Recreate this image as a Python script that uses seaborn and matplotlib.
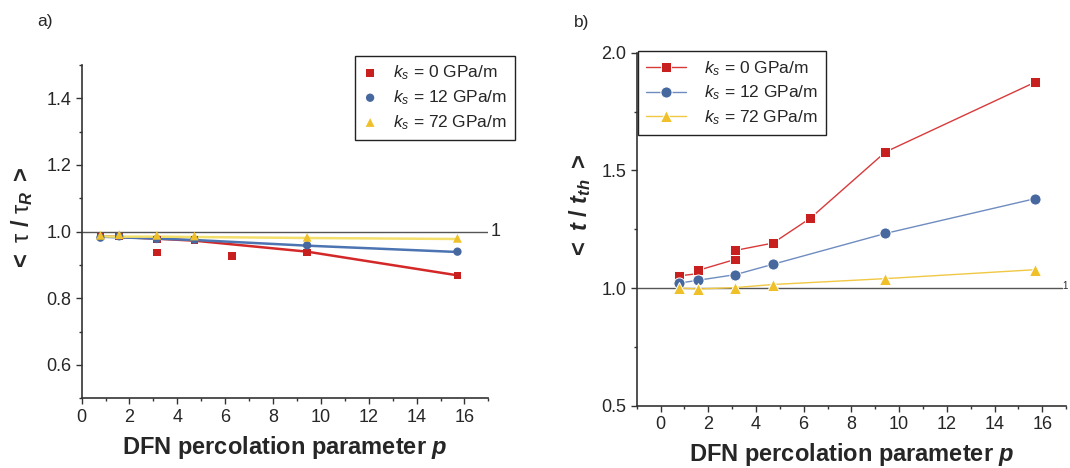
import matplotlib
matplotlib.use("Agg")
import matplotlib.pyplot as plt
import seaborn as sns
from matplotlib.ticker import MultipleLocator

# ---------------- data ----------------
labels = ["0", "12", "72"]

# panel a) <tau/tau_R>
p_a_red = [0.785, 1.571, 3.142, 3.142, 4.712, 6.283, 9.425, 15.708]
tau_red = [0.986, 0.986, 0.977, 0.937, 0.975, 0.927, 0.938, 0.869]
p_a = [0.785, 1.571, 3.142, 4.712, 9.425, 15.708]
tau_blue = [0.982, 0.986, 0.978, 0.976, 0.959, 0.940]
tau_yellow = [0.989, 0.991, 0.989, 0.987, 0.983, 0.980]
fit_red = [0.987, 0.984, 0.979, 0.973, 0.940, 0.869]
fit_blue = [0.985, 0.983, 0.979, 0.975, 0.958, 0.939]
fit_yellow = [0.986, 0.985, 0.985, 0.984, 0.981, 0.978]

# panel b) <t/t_th>
p_b_red = [0.785, 1.571, 1.571, 3.142, 3.142, 4.712, 6.283, 9.425, 15.708]
t_red = [1.052, 1.061, 1.075, 1.122, 1.160, 1.191, 1.297, 1.578, 1.875]
p_b = [0.785, 1.571, 3.142, 4.712, 9.425, 15.708]
t_blue = [1.021, 1.033, 1.057, 1.101, 1.232, 1.380]
t_yellow = [1.000, 0.996, 1.002, 1.015, 1.040, 1.078]

# ---------------- style ----------------
sns.set_theme(style="ticks")
plt.rcParams["font.family"] = ["Liberation Sans", "DejaVu Sans"]
plt.rcParams["mathtext.fontset"] = "custom"
plt.rcParams["mathtext.rm"] = "Liberation Sans"
plt.rcParams["mathtext.it"] = "Liberation Sans:italic"
plt.rcParams["mathtext.bf"] = "Liberation Sans:bold"
plt.rcParams["mathtext.bfit"] = "Liberation Sans:bold:italic"

C_RED, C_BLUE, C_YEL = "#C8201E", "#46689F", "#F0C02A"
L_RED, L_BLUE, L_YEL = "#D83A3A", "#6F8CC0", "#F0C844"
SPINE = "#333333"

fig = plt.figure(figsize=(10.7, 4.68), dpi=100)
axa = fig.add_axes([0.0763, 0.1489, 0.3801, 0.7122])
axb = fig.add_axes([0.5950, 0.1331, 0.4014, 0.7543])

def leg_label(v):
    return r"$\mathit{k_s}$ = " + v + " GPa/m"

def style_axes(ax):
    for s in ["top", "right"]:
        ax.spines[s].set_visible(False)
    for s in ["left", "bottom"]:
        ax.spines[s].set_color(SPINE)
        ax.spines[s].set_linewidth(1.2)
    ax.xaxis.set_major_locator(MultipleLocator(2))
    ax.xaxis.set_minor_locator(MultipleLocator(1))
    ax.tick_params(which="major", direction="out", length=4.5, width=1.0,
                   color=SPINE, labelsize=13, pad=3)
    ax.tick_params(which="minor", direction="out", length=2.5, width=1.0, color=SPINE)
    ax.set_xlabel(r"DFN percolation parameter $\mathbfit{p}$", fontsize=17,
                  fontweight="bold", labelpad=6)

# ---------- panel a ----------
ax = axa
ax.axhline(1.0, xmin=0, xmax=1, color="#555555", lw=1.0, zorder=1)
sns.lineplot(x=p_a, y=fit_red, ax=axa, color="#D42828", lw=1.8, zorder=3,
             estimator=None, legend=False)
sns.lineplot(x=p_a, y=fit_blue, ax=axa, color="#4C74B2", lw=1.8, zorder=3,
             estimator=None, legend=False)
sns.lineplot(x=p_a, y=fit_yellow, ax=axa, color="#F3E06C", lw=1.8, zorder=3,
             estimator=None, legend=False)
sns.scatterplot(x=p_a_red, y=tau_red, ax=axa, marker="s", color=C_RED, s=30,
                edgecolor="none", zorder=4, label=leg_label(labels[0]))
sns.scatterplot(x=p_a, y=tau_blue, ax=axa, marker="o", color=C_BLUE, s=36,
                edgecolor="none", zorder=4, label=leg_label(labels[1]))
sns.scatterplot(x=p_a, y=tau_yellow, ax=axa, marker="^", color=C_YEL, s=40,
                edgecolor="none", zorder=5, label=leg_label(labels[2]))
ax.set_xlim(0, 17)
ax.set_ylim(0.5, 1.5)
ax.yaxis.set_major_locator(MultipleLocator(0.2))
ax.yaxis.set_minor_locator(MultipleLocator(0.1))
style_axes(ax)
ax.set_yticks([0.6, 0.8, 1.0, 1.2, 1.4])
ax.set_yticklabels(["0.6", "0.8", "1.0", "1.2", "1.4"])
ax.text(17.1, 1.0, "1", fontsize=13, ha="left", va="center", clip_on=False)
ax.set_ylabel(r"$\mathbf{<}$ τ $\mathbf{/}$ τ$_{\mathbfit{R}}$ $\mathbf{>}$",
              fontsize=17, fontweight="normal")
ax.yaxis.label.set_va("center")
ax.yaxis.label.set_ha("center")
ax.yaxis.set_label_coords(-0.146, 0.54)
leg = ax.legend(loc="upper left", bbox_to_anchor=(0.3321, 0.881),
                bbox_transform=fig.transFigure, fontsize=12.5, frameon=True,
                fancybox=False, framealpha=1, edgecolor="#222222",
                handlelength=0.8, handletextpad=0.9, labelspacing=0.35,
                borderpad=0.45, borderaxespad=0, markerscale=1.0)
leg.get_frame().set_linewidth(1.0)

# ---------- panel b ----------
ax = axb
ax.axhline(1.0, xmin=0, xmax=0.99, color="#555555", lw=1.0, zorder=1)
sns.lineplot(x=p_b_red, y=t_red, ax=ax, sort=False, estimator=None, color=L_RED, lw=1.0,
             marker="s", markersize=7.5, markerfacecolor=C_RED, markeredgecolor="white",
             markeredgewidth=0.7, zorder=4, label=leg_label(labels[0]))
sns.lineplot(x=p_b, y=t_blue, ax=ax, sort=False, estimator=None, color=L_BLUE, lw=1.0,
             marker="o", markersize=8, markerfacecolor=C_BLUE, markeredgecolor="white",
             markeredgewidth=0.7, zorder=4, label=leg_label(labels[1]))
sns.lineplot(x=p_b, y=t_yellow, ax=ax, sort=False, estimator=None, color=L_YEL, lw=1.0,
             marker="^", markersize=8.5, markerfacecolor=C_YEL, markeredgecolor="white",
             markeredgewidth=0.7, zorder=5, label=leg_label(labels[2]))
ax.set_xlim(-1, 17)
ax.set_ylim(0.5, 2.0)
ax.yaxis.set_major_locator(MultipleLocator(0.5))
ax.yaxis.set_minor_locator(MultipleLocator(0.25))
style_axes(ax)
ax.set_xticks(list(range(0, 17, 2)))
fig.text(1068 / 1070, 1 - 286 / 468, "1", fontsize=7, ha="right", va="center")
ax.set_ylabel(r"$\mathbf{<}\ \mathbfit{t}\ \mathbf{/}\ \mathbfit{t}_{\mathbfit{th}}\ \mathbf{>}$",
              fontsize=17)
ax.yaxis.label.set_va("center")
ax.yaxis.label.set_ha("center")
ax.yaxis.set_label_coords(-0.132, 0.566)
leg = ax.legend(loc="upper left", bbox_to_anchor=(0.5967, 0.891),
                bbox_transform=fig.transFigure, fontsize=12.5, frameon=True,
                fancybox=False, framealpha=1, edgecolor="#222222",
                handlelength=2.3, handletextpad=1.0, labelspacing=0.35,
                borderpad=0.45, borderaxespad=0)
leg.get_frame().set_linewidth(1.0)

fig.text(44.8 / 1070, 1 - 21.7 / 468, "a)", fontsize=12.5, ha="center", va="center")
fig.text(581.7 / 1070, 1 - 22 / 468, "b)", fontsize=12.5, ha="center", va="center")

fig.savefig("out.png", dpi=100)
